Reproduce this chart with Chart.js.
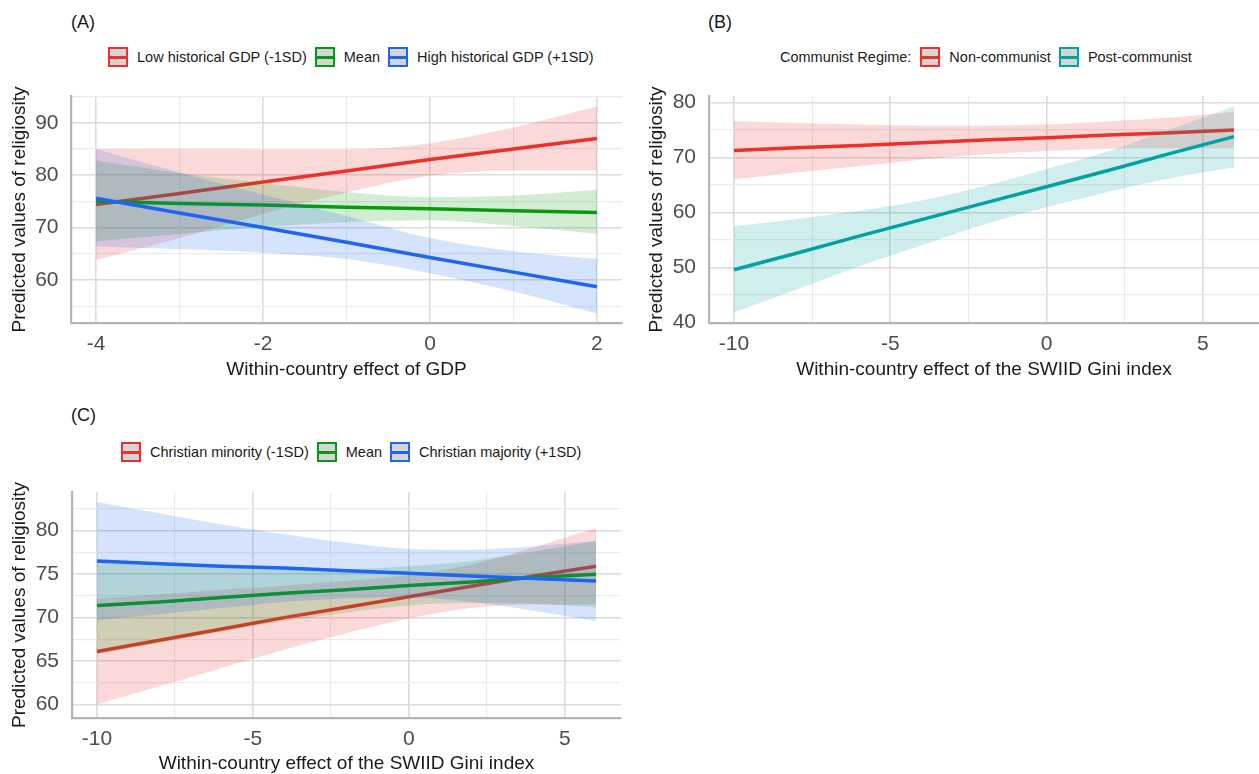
<!DOCTYPE html>
<html>
<head>
<meta charset="utf-8">
<script src="https://cdn.jsdelivr.net/npm/chart.js@4.4.1/dist/chart.umd.min.js"></script>
<style>
  body { margin: 0; background: #fff; }
  #page { position: relative; width: 1259px; height: 774px; overflow: hidden;
          font-family: 'Liberation Sans', Arial, sans-serif; color: #1a1a1a; }
  .tag { position: absolute; font-size: 18px; line-height: 20px; }
  .legend { position: absolute; display: flex; align-items: center; height: 20px;
            font-size: 14.5px; white-space: nowrap; }
  .key { position: relative; display: inline-block; width: 20px; height: 20px; box-sizing: border-box;
         border: 2.5px solid; background: #d5d5d5; margin-right: 9px; }
  .key i { position: absolute; left: 0; right: 0; top: 50%; height: 3px; margin-top: -1.5px; }
  .lab { margin-right: 8px; }
  canvas { position: absolute; }
</style>
</head>
<body>
<div id="page">
  <div class="tag" style="left:71px;top:12px">(A)</div>
  <div class="tag" style="left:708px;top:12px">(B)</div>
  <div class="tag" style="left:71px;top:405px">(C)</div>
  <div class="legend" id="legA" style="left:108px;top:47px"></div>
  <div class="legend" id="legB" style="left:780px;top:47px"></div>
  <div class="legend" id="legC" style="left:121px;top:442px"></div>
  <canvas id="chartA" width="630" height="310" style="left:0;top:80px"></canvas>
  <canvas id="chartB" width="629" height="310" style="left:630px;top:80px"></canvas>
  <canvas id="chartC" width="630" height="304" style="left:0;top:470px"></canvas>
</div>
<script>
// ---------- Panel A: GDP x historical GDP ----------
const gdpX = [-4, -3, -2, -1, 0, 1, 2];
const gdpLowFit   = [74.4, 76.5, 78.7, 80.8, 83.0, 85.0, 87.0];
const gdpLowUpper = [85.0, 85.0, 84.9, 84.9, 86.1, 89.1, 93.1];
const gdpLowLower = [63.8, 68.0, 72.6, 76.7, 79.9, 80.9, 80.9];
const gdpMeanFit   = [75.0, 74.6, 74.3, 73.9, 73.6, 73.2, 72.9];
const gdpMeanUpper = [82.8, 80.4, 78.5, 76.8, 75.8, 76.1, 77.2];
const gdpMeanLower = [67.4, 68.8, 70.1, 71.0, 71.4, 70.3, 68.8];
const gdpHighFit   = [75.6, 72.8, 70.0, 67.2, 64.3, 61.5, 58.7];
const gdpHighUpper = [85.0, 80.5, 76.3, 72.2, 68.0, 65.5, 64.0];
const gdpHighLower = [66.4, 65.9, 65.2, 64.0, 61.3, 57.8, 53.6];
const gdpLegend = ['Low historical GDP (-1SD)', 'Mean', 'High historical GDP (+1SD)'];
const gdpXTicks = [-4, -3, -2, -1, 0, 1, 2];
const gdpXLabels = [-4, -2, 0, 2];
const gdpYTicks = [55, 60, 65, 70, 75, 80, 85, 90, 95];
const gdpYLabels = [60, 70, 80, 90];

// ---------- Panel B: Gini x communist regime ----------
const giniX = [-10, -8, -6, -4, -2, 0, 2, 4, 6];
const nonComFit   = [71.3, 71.8, 72.2, 72.7, 73.2, 73.6, 74.1, 74.5, 75.0];
const nonComUpper = [76.6, 76.3, 76.0, 75.8, 75.8, 76.0, 76.6, 77.3, 78.3];
const nonComLower = [66.0, 67.3, 68.4, 69.6, 70.6, 71.2, 71.6, 71.7, 71.7];
const postComFit   = [49.6, 52.6, 55.7, 58.7, 61.7, 64.7, 67.7, 70.8, 73.8];
const postComUpper = [57.5, 58.8, 60.3, 62.2, 64.8, 67.9, 71.2, 75.2, 79.3];
const postComLower = [41.8, 46.0, 50.2, 54.0, 57.8, 61.0, 63.8, 66.3, 68.2];
const regimeLegend = ['Non-communist', 'Post-communist'];
const regimeTitle = 'Communist Regime:';
const giniXTicks = [-10, -7.5, -5, -2.5, 0, 2.5, 5];
const giniXLabels = [-10, -5, 0, 5];
const regimeYTicks = [40, 45, 50, 55, 60, 65, 70, 75, 80];
const regimeYLabels = [40, 50, 60, 70, 80];

// ---------- Panel C: Gini x Christian share ----------
const minorityFit   = [66.1, 67.4, 68.7, 70.0, 71.2, 72.4, 73.6, 74.8, 75.9];
const minorityUpper = [72.2, 72.7, 73.2, 73.7, 74.2, 74.9, 76.1, 78.1, 80.3];
const minorityLower = [60.0, 62.1, 64.2, 66.3, 68.2, 69.9, 71.1, 71.5, 71.5];
const christMeanFit   = [71.4, 71.8, 72.3, 72.8, 73.2, 73.7, 74.1, 74.6, 75.0];
const christMeanUpper = [76.4, 76.0, 75.8, 75.7, 75.6, 75.9, 76.5, 77.6, 78.8];
const christMeanLower = [65.8, 67.1, 68.4, 69.6, 70.6, 71.4, 71.7, 71.6, 71.2];
const majorityFit   = [76.5, 76.2, 75.9, 75.7, 75.4, 75.1, 74.8, 74.5, 74.2];
const majorityUpper = [83.3, 82.0, 80.7, 79.6, 78.6, 77.9, 77.8, 78.2, 78.8];
const majorityLower = [69.7, 70.4, 71.1, 71.8, 72.2, 72.3, 71.8, 70.8, 69.6];
const christLegend = ['Christian minority (-1SD)', 'Mean', 'Christian majority (+1SD)'];
const christYTicks = [60, 62.5, 65, 67.5, 70, 72.5, 75, 77.5, 80, 82.5];
const christYLabels = [60, 65, 70, 75, 80];

const Y_TITLE = 'Predicted values of religiosity';

const RED = [238, 47, 42];
const GREEN = [8, 154, 14];
const BLUE = [30, 102, 242];
const TEAL = [0, 163, 160];
const TICK = '#4d4d4d';
const TITLE = '#1a1a1a';
const AXIS = '#b4b4b4';

const rgb = c => `rgb(${c[0]},${c[1]},${c[2]})`;
const rgba = (c, a) => `rgba(${c[0]},${c[1]},${c[2]},${a})`;

Chart.defaults.font.family = "'Liberation Sans', Arial, sans-serif";

function pts(xs, ys) { return xs.map((x, i) => ({ x, y: ys[i] })); }

// one group = fitted line + upper/lower band; band fills to the lower edge
function group(xs, fit, upper, lower, color, base) {
    return [
        { data: pts(xs, fit), borderColor: rgb(color), borderWidth: 3.5, pointRadius: 0, fill: false },
        { data: pts(xs, upper), borderColor: 'transparent', borderWidth: 0, pointRadius: 0,
          backgroundColor: rgba(color, 0.18), fill: base + 2, cubicInterpolationMode: 'monotone' },
        { data: pts(xs, lower), borderColor: 'transparent', borderWidth: 0, pointRadius: 0,
          fill: false, cubicInterpolationMode: 'monotone' },
    ];
}

function gridStyle(labels) {
    return {
        drawTicks: false,
        color: c => labels.includes(c.tick.value) ? '#dcdcdc' : '#ebebeb',
        lineWidth: c => labels.includes(c.tick.value) ? 1.6 : 1.2,
    };
}

function makeChart(id, p) {
    // groups listed top-most first (dataset 0 is drawn last)
    let datasets = [];
    p.groups.forEach((g, i) => { datasets = datasets.concat(group(g[0], g[1], g[2], g[3], g[4], i * 3)); });

    return new Chart(document.getElementById(id), {
        type: 'line',
        data: { datasets },
        options: {
            responsive: false, animation: false,
            layout: { padding: { top: p.padTop, right: p.padRight, left: 0, bottom: 0 } },
            plugins: { legend: { display: false }, tooltip: { enabled: false } },
            scales: {
                x: {
                    type: 'linear', min: p.xMin, max: p.xMax,
                    afterBuildTicks: ax => { ax.ticks = p.xTicks.map(v => ({ value: v })); },
                    afterFit: ax => { ax.height = p.xAxisH; ax.paddingLeft = 0; ax.paddingRight = 0; },
                    ticks: { autoSkip: false, maxRotation: 0, padding: p.xTickPad, color: TICK, font: { size: 21 },
                             callback: v => p.xLabels.includes(v) ? String(v) : '' },
                    grid: gridStyle(p.xLabels),
                    border: { display: true, color: AXIS, width: 2.2 },
                    title: { display: true, text: p.xTitle, color: TITLE, font: { size: 19 },
                             padding: { top: 0, bottom: p.xTitlePad } },
                },
                y: {
                    type: 'linear', min: p.yMin, max: p.yMax,
                    afterBuildTicks: ax => { ax.ticks = p.yTicks.map(v => ({ value: v })); },
                    afterFit: ax => { ax.width = p.yAxisW; ax.paddingTop = 0; ax.paddingBottom = 0; },
                    ticks: { autoSkip: false, padding: p.yTickPad, color: TICK, font: { size: 21 },
                             callback: v => p.yLabels.includes(v) ? String(v) : '' },
                    grid: gridStyle(p.yLabels),
                    border: { display: true, color: AXIS, width: 2.2 },
                    title: { display: true, text: Y_TITLE, color: TITLE, font: { size: 19 },
                             padding: { top: p.yTitlePad, bottom: 0 } },
                },
            },
        },
    });
}

function buildLegend(id, labels, colors, title) {
    const el = document.getElementById(id);
    if (title) {
        const t = document.createElement('span');
        t.className = 'lab'; t.style.marginRight = '9px'; t.textContent = title;
        el.appendChild(t);
    }
    labels.forEach((lab, i) => {
        const k = document.createElement('span');
        k.className = 'key'; k.style.borderColor = rgb(colors[i]);
        const m = document.createElement('i'); m.style.background = rgb(colors[i]);
        k.appendChild(m);
        const t = document.createElement('span');
        t.className = 'lab'; t.textContent = lab;
        el.append(k, t);
    });
}

buildLegend('legA', gdpLegend, [RED, GREEN, BLUE]);
buildLegend('legB', regimeLegend, [RED, TEAL], regimeTitle);
buildLegend('legC', christLegend, [RED, GREEN, BLUE]);

makeChart('chartA', {
    groups: [
        [gdpX, gdpHighFit, gdpHighUpper, gdpHighLower, BLUE],
        [gdpX, gdpMeanFit, gdpMeanUpper, gdpMeanLower, GREEN],
        [gdpX, gdpLowFit, gdpLowUpper, gdpLowLower, RED],
    ],
    xMin: -4.3, xMax: 2.3, yMin: 51.8, yMax: 95.1,
    xTicks: gdpXTicks, xLabels: gdpXLabels, yTicks: gdpYTicks, yLabels: gdpYLabels,
    xTitle: 'Within-country effect of GDP',
    yAxisW: 71, xAxisH: 67, padTop: 16, padRight: 8,
    yTitlePad: 8, xTitlePad: 8.6, yTickPad: 12.5, xTickPad: 9,
});

makeChart('chartB', {
    groups: [
        [giniX, postComFit, postComUpper, postComLower, TEAL],
        [giniX, nonComFit, nonComUpper, nonComLower, RED],
    ],
    xMin: -10.8, xMax: 6.8, yMin: 39.9, yMax: 81.2,
    xTicks: giniXTicks, xLabels: giniXLabels, yTicks: regimeYTicks, yLabels: regimeYLabels,
    xTitle: 'Within-country effect of the SWIID Gini index',
    yAxisW: 79, xAxisH: 67, padTop: 16, padRight: 0,
    yTitlePad: 15.6, xTitlePad: 8.6, yTickPad: 13, xTickPad: 9,
});

makeChart('chartC', {
    groups: [
        [giniX, majorityFit, majorityUpper, majorityLower, BLUE],
        [giniX, christMeanFit, christMeanUpper, christMeanLower, GREEN],
        [giniX, minorityFit, minorityUpper, minorityLower, RED],
    ],
    xMin: -10.8, xMax: 6.8, yMin: 58.45, yMax: 84.45,
    xTicks: giniXTicks, xLabels: giniXLabels, yTicks: christYTicks, yLabels: christYLabels,
    xTitle: 'Within-country effect of the SWIID Gini index',
    yAxisW: 72, xAxisH: 56, padTop: 22, padRight: 9,
    yTitlePad: 8, xTitlePad: -1.4, yTickPad: 13, xTickPad: 9,
});
</script>
</body>
</html>
